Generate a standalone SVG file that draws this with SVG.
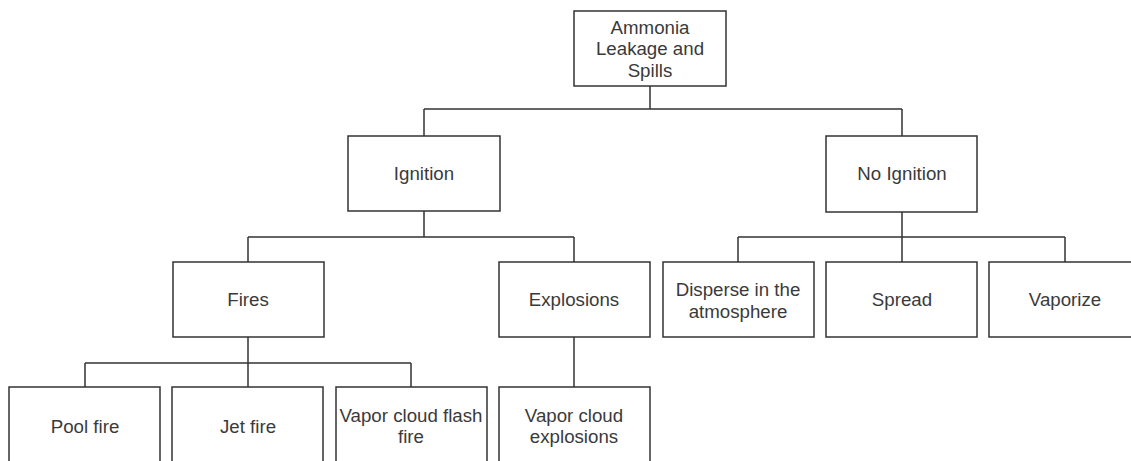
<svg xmlns="http://www.w3.org/2000/svg" width="1131" height="461" viewBox="0 0 1131 461">
<style>
.box{fill:#ffffff;stroke:#333333;stroke-width:1.5}
.lbl{font-family:"Liberation Sans",Arial,sans-serif;font-size:18.7px;fill:#3a3a3a;text-anchor:middle}
.edge{fill:none;stroke:#333333;stroke-width:1.5}
</style>
<rect width="1131" height="461" fill="#ffffff"/>
<g id="connectors">
<path class="edge" d="M650,86 V109 M424,109 H902 M424,109 V136 M902,109 V136"/>
<path class="edge" d="M424,211 V237 M248,237 H574 M248,237 V262 M574,237 V262"/>
<path class="edge" d="M902,212 V237 M738,237 H1065 M738,237 V262 M902,237 V262 M1065,237 V262"/>
<path class="edge" d="M248,337 V363 M85,363 H411 M85,363 V387 M248,363 V387 M411,363 V387"/>
<path class="edge" d="M574,337 V387"/>
</g>
<g id="root"><rect class="box" x="574" y="11" width="152" height="75"/>
<text class="lbl" x="650" y="33.5">Ammonia</text><text class="lbl" x="650" y="55">Leakage and</text><text class="lbl" x="650" y="76.5">Spills</text></g>
<g id="ignition"><rect class="box" x="348" y="136" width="152" height="75"/><text class="lbl" x="424" y="180">Ignition</text></g>
<g id="no-ignition"><rect class="box" x="826" y="136" width="151" height="76"/><text class="lbl" x="902" y="180">No Ignition</text></g>
<g id="fires"><rect class="box" x="173" y="262" width="151" height="75"/><text class="lbl" x="248" y="306">Fires</text></g>
<g id="explosions"><rect class="box" x="499" y="262" width="151" height="75"/><text class="lbl" x="574" y="306">Explosions</text></g>
<g id="disperse"><rect class="box" x="663" y="262" width="151" height="75"/><text class="lbl" x="738" y="295.5">Disperse in the</text><text class="lbl" x="738" y="317.5">atmosphere</text></g>
<g id="spread"><rect class="box" x="826" y="262" width="151" height="75"/><text class="lbl" x="902" y="306">Spread</text></g>
<g id="vaporize"><rect class="box" x="989" y="262" width="151" height="75"/><text class="lbl" x="1065" y="306">Vaporize</text></g>
<g id="pool-fire"><rect class="box" x="9" y="387" width="151" height="80"/><text class="lbl" x="85" y="433">Pool fire</text></g>
<g id="jet-fire"><rect class="box" x="172" y="387" width="151" height="80"/><text class="lbl" x="248" y="433">Jet fire</text></g>
<g id="vapor-flash"><rect class="box" x="336" y="387" width="151" height="80"/><text class="lbl" x="411" y="421.5">Vapor cloud flash</text><text class="lbl" x="411" y="443">fire</text></g>
<g id="vapor-explosions"><rect class="box" x="499" y="387" width="151" height="80"/><text class="lbl" x="574" y="421.5">Vapor cloud</text><text class="lbl" x="574" y="443">explosions</text></g>
</svg>
